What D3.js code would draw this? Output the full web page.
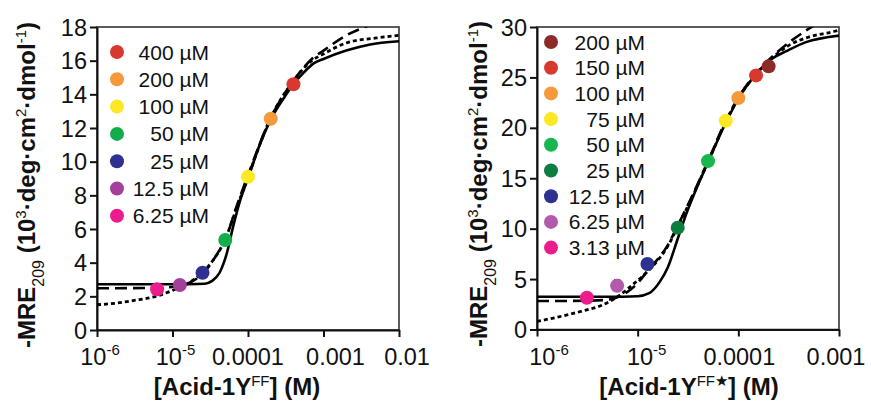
<!DOCTYPE html>
<html>
<head>
<meta charset="utf-8">
<script src="https://cdn.jsdelivr.net/npm/d3@7"></script>
<style>
  html, body { margin: 0; padding: 0; background: #fff; }
  svg text { font-family: "Liberation Sans", Arial, Helvetica, sans-serif; fill: #111; }
</style>
</head>
<body>
<svg id="chart" width="871" height="403"></svg>
<script>
// ---- left panel: Acid-1Y^FF ----
const leftConc = [6.25e-6, 1.25e-5, 2.5e-5, 5e-5, 1e-4, 2e-4, 4e-4];
const leftMRE = [2.42, 2.67, 3.4, 5.35, 9.1, 12.55, 14.6];
const leftColors = ["#ec1c8c", "#a2409c", "#2e3192", "#12ad4b", "#fce824", "#f59a3b", "#d8392e"];
const leftLegend = ["400 µM", "200 µM", "100 µM", "50 µM", "25 µM", "12.5 µM", "6.25 µM"];
const leftXTicks = [1e-6, 1e-5, 1e-4, 1e-3, 1e-2];
const leftXLabels = [["10", "-6"], ["10", "-5"], ["0.0001"], ["0.001"], ["0.01"]];
const leftYTicks = [0, 2, 4, 6, 8, 10, 12, 14, 16, 18];

const leftSolid = [[1e-6, 2.72], [1e-5, 2.72], [2.7e-5, 2.75], [3.3e-5, 2.9], [4.2e-5, 3.4], [5.2e-5, 4.5],
  [6.4e-5, 6.2], [8e-5, 7.8], [1e-4, 9.0], [1.4e-4, 10.9], [2e-4, 12.5], [3e-4, 13.8], [4e-4, 14.6],
  [5.5e-4, 15.3], [7.5e-4, 15.85], [1e-3, 16.1], [2e-3, 16.6], [4e-3, 16.95], [1e-2, 17.15]];
const leftDashed = [[1e-6, 2.48], [5e-6, 2.5], [1e-5, 2.55], [1.6e-5, 2.77], [2e-5, 3.0], [3e-5, 3.75],
  [4e-5, 4.6], [5e-5, 5.35], [7e-5, 7.3], [1e-4, 9.2], [2e-4, 12.6], [4e-4, 14.8], [7e-4, 16.1],
  [1e-3, 16.6], [2e-3, 17.5], [4e-3, 18.1], [1e-2, 18.8]];
const leftDotted = [[1e-6, 1.5], [2e-6, 1.62], [3e-6, 1.75], [6e-6, 2.0], [1e-5, 2.35], [1.5e-5, 2.7],
  [2e-5, 3.05], [3e-5, 3.8], [5e-5, 5.4], [7e-5, 7.2], [1e-4, 9.1], [2e-4, 12.6], [4e-4, 14.8],
  [7e-4, 16.0], [1e-3, 16.4], [2e-3, 17.05], [5e-3, 17.35], [1e-2, 17.5]];

// ---- right panel: Acid-1Y^FF* ----
const rightConc = [3.13e-6, 6.25e-6, 1.25e-5, 2.5e-5, 5e-5, 7.5e-5, 1e-4, 1.5e-4, 2e-4];
const rightMRE = [3.15, 4.34, 6.5, 10.1, 16.7, 20.7, 22.95, 25.2, 26.1];
const rightErr = [0, 0.6, 0, 0, 0, 0, 0, 0, 0];
const rightColors = ["#ec1c8c", "#b45aab", "#2e3192", "#0e7d40", "#19b54f", "#fce824", "#f59a3b", "#d8392e", "#8b2a26"];
const rightLegend = ["200 µM", "150 µM", "100 µM", "75 µM", "50 µM", "25 µM", "12.5 µM", "6.25 µM", "3.13 µM"];
const rightXTicks = [1e-6, 1e-5, 1e-4, 1e-3];
const rightXLabels = [["10", "-6"], ["10", "-5"], ["0.0001"], ["0.001"]];
const rightYTicks = [0, 5, 10, 15, 20, 25, 30];

const rightSolid = [[1e-6, 3.25], [5e-6, 3.25], [1e-5, 3.3], [1.3e-5, 3.6], [1.65e-5, 4.7], [2e-5, 6.2],
  [2.5e-5, 9.0], [3e-5, 11.3], [4e-5, 14.4], [5e-5, 16.6], [7.5e-5, 20.5], [1e-4, 22.9], [1.5e-4, 25.3],
  [2.2e-4, 26.9], [3e-4, 27.6], [4.7e-4, 28.5], [1e-3, 29.15]];
const rightDashed = [[1e-6, 2.82], [3e-6, 2.85], [5e-6, 2.95], [7e-6, 3.4], [1e-5, 4.6], [1.25e-5, 5.8],
  [1.5e-5, 6.7], [2e-5, 8.4], [2.5e-5, 10.3], [3e-5, 11.9], [5e-5, 16.7], [7.5e-5, 20.7], [1e-4, 23.0],
  [1.5e-4, 25.4], [2.5e-4, 27.6], [5.25e-4, 29.95], [6e-4, 30.3]];
const rightDotted = [[1e-6, 0.8], [2e-6, 1.45], [3e-6, 1.9], [4.4e-6, 2.4], [6.4e-6, 3.3], [9.3e-6, 4.6],
  [1.3e-5, 5.9], [2e-5, 8.3], [2.5e-5, 10.2], [3e-5, 11.8], [5e-5, 16.6], [7.5e-5, 20.6], [1e-4, 22.95],
  [1.5e-4, 25.3], [2e-4, 26.6], [3.2e-4, 28.2], [5e-4, 29.0], [9.3e-4, 29.6], [1e-3, 29.7]];

const svg = d3.select("#chart");
const FONT_TICK = 23.5;
const FONT_LEG = 21;
const FONT_TITLE = 24;

function drawPanel(p) {
  const x = d3.scaleLog().domain(p.xDomain).range([p.left, p.right]);
  const y = d3.scaleLinear().domain([0, p.yMax]).range([p.bottom, p.top]);
  const g = svg.append("g");

  g.append("clipPath").attr("id", p.id + "-clip")
    .append("rect").attr("x", p.left).attr("y", p.top)
    .attr("width", p.right - p.left).attr("height", p.bottom - p.top);

  // frame (top/right)
  g.append("rect").attr("x", p.left).attr("y", p.top)
    .attr("width", p.right - p.left).attr("height", p.bottom - p.top)
    .attr("fill", "none").attr("stroke", "#333").attr("stroke-width", 1.6);

  // axes
  const xAxis = g.append("g").attr("transform", "translate(0," + p.bottom + ")")
    .call(d3.axisBottom(x).tickValues(p.xTicks).tickSize(7).tickSizeOuter(0).tickFormat(""));
  const yAxis = g.append("g").attr("transform", "translate(" + p.left + ",0)")
    .call(d3.axisLeft(y).tickValues(p.yTicks).tickSize(7).tickSizeOuter(0).tickFormat(""));
  [xAxis, yAxis].forEach(function(a) {
    a.selectAll("path, line").attr("stroke", "#111").attr("stroke-width", 2);
  });

  // y tick labels
  g.selectAll("text.ytick").data(p.yTicks).join("text")
    .attr("class", "ytick")
    .attr("x", p.left - 10)
    .attr("y", function(d) { return y(d) + 8.5; })
    .attr("text-anchor", "end")
    .attr("font-size", FONT_TICK)
    .text(function(d) { return d; });

  // x tick labels
  p.xTicks.forEach(function(t, i) {
    const lab = p.xLabels[i];
    const tx = g.append("text")
      .attr("x", x(t) + p.xLabelDx[i])
      .attr("y", p.bottom + 35)
      .attr("text-anchor", "middle")
      .attr("font-size", FONT_TICK);
    tx.append("tspan").text(lab[0]);
    if (lab[1]) {
      tx.append("tspan").attr("font-size", 15).attr("dy", -10).text(lab[1]);
    }
  });

  // fit curves
  const line = d3.line()
    .x(function(d) { return x(d[0]); })
    .y(function(d) { return y(d[1]); })
    .curve(d3.curveMonotoneX);
  const curves = g.append("g").attr("clip-path", "url(#" + p.id + "-clip)");
  curves.append("path").datum(p.solid).attr("d", line)
    .attr("fill", "none").attr("stroke", "#000").attr("stroke-width", 2.6);
  curves.append("path").datum(p.dashed).attr("d", line)
    .attr("fill", "none").attr("stroke", "#000").attr("stroke-width", 2.6)
    .attr("stroke-dasharray", "12 6");
  curves.append("path").datum(p.dotted).attr("d", line)
    .attr("fill", "none").attr("stroke", "#000").attr("stroke-width", 2.8)
    .attr("stroke-dasharray", "4 3");

  // error bars
  p.conc.forEach(function(c, i) {
    const e = p.err ? p.err[i] : 0;
    if (!e) return;
    g.append("line").attr("x1", x(c)).attr("x2", x(c))
      .attr("y1", y(p.mre[i])).attr("y2", y(p.mre[i] + e))
      .attr("stroke", "#000").attr("stroke-width", 1.5);
    g.append("line").attr("x1", x(c) - 3).attr("x2", x(c) + 3)
      .attr("y1", y(p.mre[i] + e)).attr("y2", y(p.mre[i] + e))
      .attr("stroke", "#000").attr("stroke-width", 1.5);
  });

  // data points
  g.selectAll("circle.pt").data(p.conc).join("circle")
    .attr("class", "pt")
    .attr("cx", function(d) { return x(d); })
    .attr("cy", function(d, i) { return y(p.mre[i]); })
    .attr("r", 7)
    .attr("fill", function(d, i) { return p.colors[i]; });

  // legend (highest concentration first)
  const legColors = p.colors.slice().reverse();
  p.legend.forEach(function(label, i) {
    const cy = p.legY + i * p.legStep;
    g.append("circle").attr("cx", p.legCircleX).attr("cy", cy).attr("r", 7).attr("fill", legColors[i]);
    g.append("text").attr("x", p.legTextX).attr("y", cy + 7.5)
      .attr("text-anchor", "end").attr("font-size", FONT_LEG).text(label);
  });

  // y title
  const yt = g.append("text")
    .attr("transform", "translate(" + p.yTitleX + "," + p.yTitleY + ") rotate(-90)")
    .attr("text-anchor", "middle")
    .attr("font-size", FONT_TITLE)
    .attr("font-weight", "bold");
  yt.append("tspan").text("-MRE");
  yt.append("tspan").attr("font-size", 16).attr("font-weight", "normal").attr("dy", 9).text("209");
  yt.append("tspan").attr("dy", -9).text(" (10");
  yt.append("tspan").attr("font-size", 15).attr("font-weight", "normal").attr("dy", -9).text("3");
  yt.append("tspan").attr("dy", 9).text("·deg·cm");
  yt.append("tspan").attr("font-size", 15).attr("font-weight", "normal").attr("dy", -9).text("2");
  yt.append("tspan").attr("dy", 9).text("·dmol");
  yt.append("tspan").attr("font-size", 15).attr("font-weight", "normal").attr("dy", -9).text("-1");
  yt.append("tspan").attr("dy", 9).text(")");

  // x title
  const xt = g.append("text")
    .attr("x", p.xTitleX).attr("y", 395)
    .attr("text-anchor", "middle")
    .attr("font-size", FONT_TITLE)
    .attr("font-weight", "bold");
  xt.append("tspan").text("[Acid-1Y");
  xt.append("tspan").attr("font-size", 15).attr("font-weight", "normal").attr("dy", -9).text(p.xSup);
  xt.append("tspan").attr("dy", 9).text("] (M)");
}

drawPanel({
  id: "left", left: 97, right: 399, top: 27, bottom: 330,
  xDomain: [1e-6, 1e-2], yMax: 18,
  xTicks: leftXTicks, xLabels: leftXLabels, xLabelDx: [3, 3, 0, 12, 8], yTicks: leftYTicks,
  conc: leftConc, mre: leftMRE, colors: leftColors, legend: leftLegend,
  solid: leftSolid, dashed: leftDashed, dotted: leftDotted,
  legCircleX: 117, legTextX: 209, legY: 52, legStep: 27.3,
  yTitleX: 35, yTitleY: 185, xTitleX: 237, xSup: "FF"
});

drawPanel({
  id: "right", left: 537, right: 839, top: 27, bottom: 329.5,
  xDomain: [1e-6, 1e-3], yMax: 30,
  xTicks: rightXTicks, xLabels: rightXLabels, xLabelDx: [12, 9, 1, -3], yTicks: rightYTicks,
  conc: rightConc, mre: rightMRE, err: rightErr, colors: rightColors, legend: rightLegend,
  solid: rightSolid, dashed: rightDashed, dotted: rightDotted,
  legCircleX: 551, legTextX: 645, legY: 42, legStep: 25.7,
  yTitleX: 487, yTitleY: 184, xTitleX: 689, xSup: "FF★"
});
</script>
</body>
</html>
